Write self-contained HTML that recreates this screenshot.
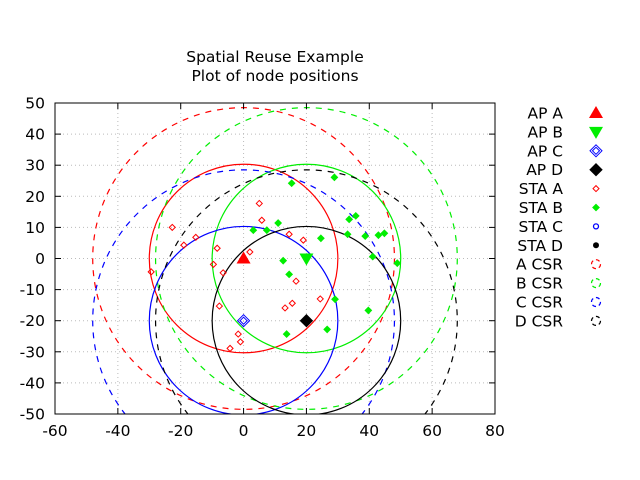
<!DOCTYPE html>
<html><head><meta charset="utf-8"><style>
body{margin:0;background:#fff}
svg{display:block;font-family:"DejaVu Sans","Liberation Sans",sans-serif}
</style></head><body>
<svg id="chart" width="640" height="480" viewBox="0 0 640 480" xmlns="http://www.w3.org/2000/svg">
<text x="275" y="62" font-size="15.5" text-anchor="middle">Spatial Reuse Example</text>
<text x="275" y="81" font-size="15.5" text-anchor="middle">Plot of node positions</text>
<g id="grid"></g>
<defs><clipPath id="clip"><rect x="55" y="103" width="440" height="311"/></clipPath></defs>
<g id="circles" clip-path="url(#clip)"></g>
<g id="marks"></g>
<rect x="55" y="103" width="440" height="311" fill="none" stroke="#000" stroke-width="1"/>
<g id="ticks"></g>
<g id="legend"></g>
</svg>
<script>
const xTicks=[-60,-40,-20,0,20,40,60,80];
const yTicks=[-50,-40,-30,-20,-10,0,10,20,30,40,50];
const apNames=['AP A','AP B','AP C','AP D'];
const apX=[0,20,0,20];
const apY=[0,0,-20,-20];
const staAX=[5.0,5.8,-22.7,-15.2,-19.0,-8.4,2.0,14.5,19.0,-29.4,-9.6,-6.5,16.7,-7.7,13.2,15.5,24.4,-1.7,-1.0,-4.3];
const staAY=[17.7,12.3,10.0,6.8,4.3,3.3,2.1,7.8,5.9,-4.3,-1.9,-4.6,-7.3,-15.3,-15.9,-14.4,-13.0,-24.3,-26.8,-28.9];
const staBX=[28.9,15.3,35.7,33.6,11.0,3.1,7.4,24.6,33.1,38.7,42.9,44.8,41.1,48.9,12.6,14.5,29.1,39.7,26.6,13.7];
const staBY=[26.1,24.2,13.7,12.6,11.4,9.1,9.1,6.5,7.8,7.2,7.5,8.1,0.6,-1.5,-0.7,-5.1,-13.1,-16.7,-22.8,-24.3];
const rangeR=[30,30,30,30];
const csrR=[48,48,48,48];
const colors=['#ff0000','#00ee00','#0000ff','#000000'];

const X0=55,X1=495,Y0=414,Y1=103;
const sx=v=>X0+(v+60)/140*(X1-X0);
const sy=v=>Y0-(v+50)/100*(Y0-Y1);
const NS='http://www.w3.org/2000/svg';
function mk(tag,attrs,parent){const e=document.createElementNS(NS,tag);for(const k in attrs)e.setAttribute(k,attrs[k]);parent.appendChild(e);return e;}
const grid=document.getElementById('grid'),ticks=document.getElementById('ticks'),circ=document.getElementById('circles'),marks=document.getElementById('marks'),leg=document.getElementById('legend');

xTicks.forEach(t=>{
  const x=sx(t);
  if(t>-60&&t<80){const g=mk('line',{x1:x,x2:x,y1:Y0,y2:Y1,stroke:'#bbb','stroke-dasharray':'1,3','stroke-width':1},grid);
  
  }
  mk('line',{x1:x,x2:x,y1:Y0,y2:Y0-6,stroke:'#000'},ticks);
  mk('line',{x1:x,x2:x,y1:Y1,y2:Y1+6,stroke:'#000'},ticks);
  const l=mk('text',{x:x,y:Y0+22,'font-size':15.5,'text-anchor':'middle'},ticks);l.textContent=t;
  
  
});
yTicks.forEach(t=>{
  const y=sy(t);
  if(t>-50&&t<50){const g=mk('line',{x1:X0,x2:X1,y1:y,y2:y,stroke:'#bbb','stroke-dasharray':'1,3','stroke-width':1},grid);
  
  }
  mk('line',{x1:X0,x2:X0+6,y1:y,y2:y,stroke:'#000'},ticks);
  mk('line',{x1:X1,x2:X1-6,y1:y,y2:y,stroke:'#000'},ticks);
  const l=mk('text',{x:X0-10,y:y+5.5,'font-size':15.5,'text-anchor':'end'},ticks);l.textContent=t;
  
  
});
const kx=(X1-X0)/140;
for(let i=0;i<4;i++){
  const c=mk('circle',{cx:sx(apX[i]),cy:sy(apY[i]),r:rangeR[i]*kx,fill:'none',stroke:colors[i],'stroke-width':1.2},circ);
  
  
  const d=mk('circle',{cx:sx(apX[i]),cy:sy(apY[i]),r:csrR[i]*kx,fill:'none',stroke:colors[i],'stroke-width':1.2,'stroke-dasharray':'6,6'},circ);
  
  
}
function diamond(x,y,s,fill,stroke,p){return mk('polygon',{points:`${x},${y-s} ${x+s},${y} ${x},${y+s} ${x-s},${y}`,fill:fill,stroke:stroke,'stroke-width':1},p);}
staAX.forEach((v,i)=>{const e=diamond(sx(v),sy(staAY[i]),3,'none','#ff0000',marks);
  
  });
staBX.forEach((v,i)=>{const e=diamond(sx(v),sy(staBY[i]),3.2,'#00ee00','#00ee00',marks);
  
  });
function apMark(i,x,y,p){
  if(i===0)return mk('polygon',{points:`${x},${y-7} ${x+7},${y+5} ${x-7},${y+5}`,fill:'#ff0000'},p);
  if(i===1)return mk('polygon',{points:`${x-7},${y-5} ${x+7},${y-5} ${x},${y+7}`,fill:'#00ee00'},p);
  if(i===2){const g=mk('g',{},p);diamond(x,y,6,'none','#0000ff',g);diamond(x,y,3.5,'none','#0000ff',g);return g;}
  return diamond(x,y,6,'#000','#000',p);
}
for(let i=0;i<4;i++){const e=apMark(i,sx(apX[i]),sy(apY[i]),marks);
  
  }

const legLabels=['AP A','AP B','AP C','AP D','STA A','STA B','STA C','STA D','A CSR','B CSR','C CSR','D CSR'];
legLabels.forEach((lab,i)=>{
  const y=113+i*18.9;
  const g=mk('g',{},leg);
  
  
  const t=mk('text',{x:563,y:y+5.5,'font-size':15.5,'text-anchor':'end'},g);t.textContent=lab;
  const x=596;
  if(i<4)apMark(i,x,y,g);
  else if(i===4)diamond(x,y,3,'none','#ff0000',g);
  else if(i===5)diamond(x,y,3.2,'#00ee00','#00ee00',g);
  else if(i===6)mk('circle',{cx:x,cy:y,r:2.5,fill:'none',stroke:'#0000ff','stroke-width':1.3},g);
  else if(i===7)mk('circle',{cx:x,cy:y,r:3,fill:'#000'},g);
  else mk('circle',{cx:x,cy:y,r:4.5,fill:'none',stroke:colors[i-8],'stroke-width':1.2,'stroke-dasharray':'4,3'},g);
});
</script>
</body></html>
